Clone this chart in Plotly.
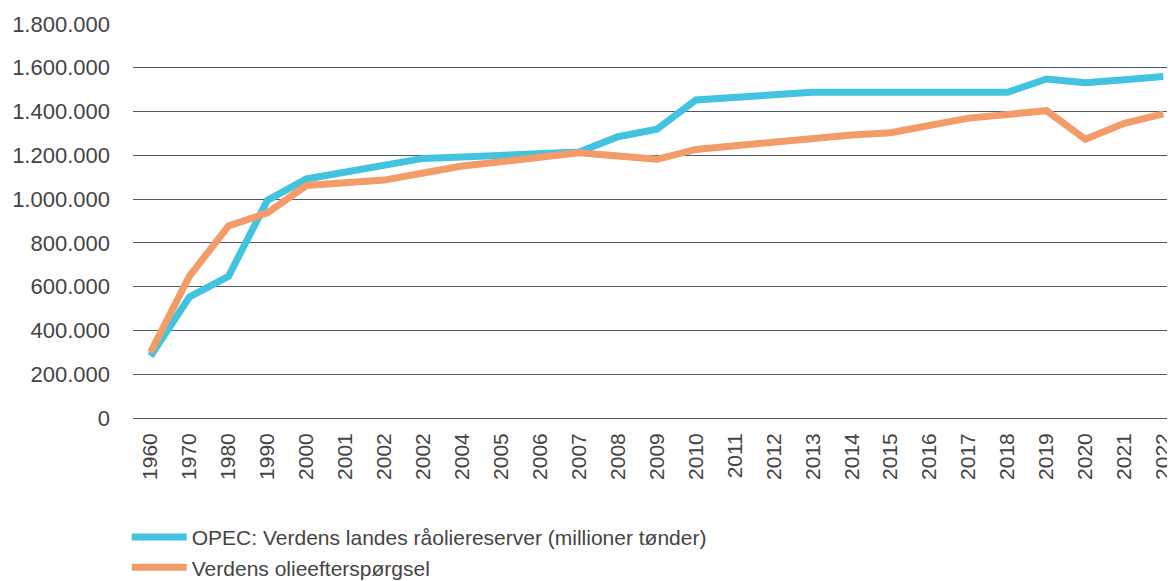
import plotly.graph_objects as go

labels = ["1960", "1970", "1980", "1990", "2000", "2001", "2002", "2002", "2004", "2005",
          "2006", "2007", "2008", "2009", "2010", "2011", "2012", "2013", "2014", "2015",
          "2016", "2017", "2018", "2019", "2020", "2021", "2022"]

opec_reserves = [283000, 553000, 647000, 994000, 1092000, 1125000, 1158000, 1186000, 1192000, 1198000,
                 1204000, 1215000, 1285000, 1319000, 1453000, 1465000, 1477000, 1488000, 1488000, 1488000,
                 1488000, 1488000, 1488000, 1549000, 1532000, 1545000, 1560000]

oil_demand = [300000, 648000, 877000, 937000, 1062000, 1074000, 1087000, 1119000, 1151000, 1171000,
              1192000, 1212000, 1197000, 1182000, 1227000, 1245000, 1263000, 1282000, 1293000, 1303000,
              1336000, 1370000, 1387000, 1404000, 1273000, 1346000, 1389000]

name_opec = "OPEC: Verdens landes råoliereserver (millioner tønder)"
name_demand = "Verdens olieefterspørgsel"

x = list(range(len(labels)))

fig = go.Figure()
fig.add_trace(go.Scatter(x=x, y=opec_reserves, mode="lines", name=name_opec,
                         line=dict(color="#42C3DF", width=7)))
fig.add_trace(go.Scatter(x=x, y=oil_demand, mode="lines", name=name_demand,
                         line=dict(color="#F39B69", width=7)))

# the page body adds an 8px offset, so margins are compensated for it
fig.update_layout(
    width=1175, height=581,
    margin=dict(l=125, r=8, t=16, b=171, autoexpand=False),
    paper_bgcolor="white", plot_bgcolor="white",
    separators=",.",
    font=dict(family="Liberation Sans, Arial, sans-serif", color="#444444", size=21),
    showlegend=True,
    legend=dict(orientation="v", x=-0.006, xanchor="left", y=-0.251, yanchor="top",
                font=dict(size=21, color="#444444"), bgcolor="rgba(0,0,0,0)",
                itemwidth=55, tracegroupgap=0),
)

fig.update_xaxes(
    range=[-0.45, 26.3], automargin=False,
    tickmode="array", tickvals=x, ticktext=labels,
    tickangle=-90, showgrid=False, zeroline=False, showline=False,
    ticks="", tickfont=dict(size=21, color="#444444"),
    ticklabelstandoff=10, ticklabeloverflow="allow",
)
fig.update_yaxes(
    range=[0, 1800000], tickmode="linear", tick0=0, dtick=200000, automargin=False,
    tickformat=",d",
    showgrid=True, gridcolor="#4B5968", gridwidth=1,
    zeroline=True, zerolinecolor="#4B5968", zerolinewidth=1,
    showline=False, ticks="",
    tickfont=dict(size=22, color="#444444"),
    ticklabelstandoff=22,
)

fig.write_html("out.html")
